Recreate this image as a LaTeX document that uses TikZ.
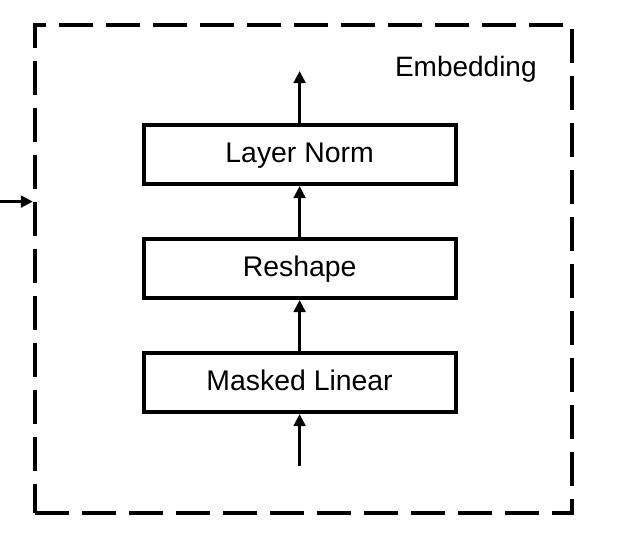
\documentclass[tikz,border=0pt]{standalone}
\usepackage{fontspec}
\setmainfont{Liberation Sans}
\usetikzlibrary{positioning,arrows.meta}

\begin{document}
	\begin{tikzpicture}[
			x=1pt, y=1pt,
			node distance=25.5pt,
			block/.style={
					draw,
					line width=2pt,
					minimum width=156pt,
					minimum height=29.5pt,
					inner sep=0pt,
					text height=10pt,
					text depth=1.6pt,
					font=\fontsize{14.2}{17}\selectfont
				},
			frame/.style={
					draw,
					line width=2pt,
					dash pattern=on 17pt off 6.5pt,
					dash phase=23.25pt,
					minimum width=268.75pt,
					minimum height=244pt,
					inner sep=0pt
				},
			flow/.style={
					line width=1.7pt,
					-{Triangle[length=6pt,width=5.8pt]}
				}
		]
		\useasboundingbox (0,0) rectangle (311,269);
		\node[frame] (embed) at (151.8,134.5) {};
		\node[anchor=base west, inner sep=0pt, font=\fontsize{14}{17}\selectfont] (title) at (197.3,231) {Embedding};
		\node[block] (linear) at (149.8,77.75) {Masked Linear};
		\node[block, above=of linear] (reshape) {Reshape};
		\node[block, above=of reshape] (norm) {Layer Norm};
		\coordinate[above=26pt of norm] (out);
		\coordinate[below=26pt of linear] (in);
		\coordinate (src) at (0,168.2);
		\draw[flow] (in) -- (linear.south);
		\draw[flow] (linear.north) -- (reshape.south);
		\draw[flow] (reshape.north) -- (norm.south);
		\draw[flow] (norm.north) -- (out);
		\draw[flow] (src) -- (src -| embed.west);
	\end{tikzpicture}
\end{document}
